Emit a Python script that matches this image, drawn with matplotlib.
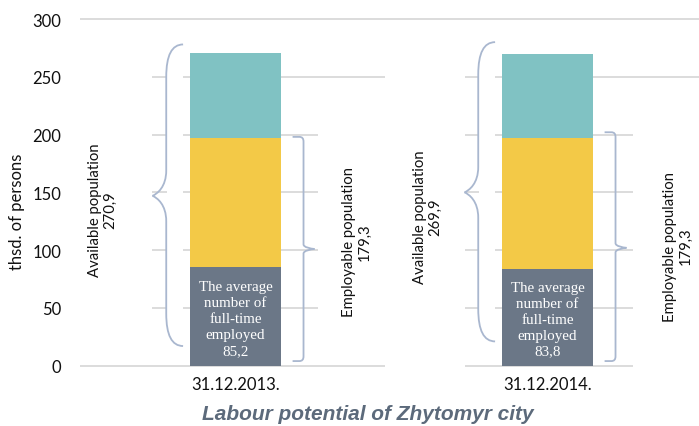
import matplotlib
matplotlib.use("Agg")
import matplotlib.pyplot as plt
from matplotlib.path import Path
from matplotlib.patches import PathPatch, Rectangle

# ---------------- data ----------------
categories = ["31.12.2013.", "31.12.2014."]
employed_full_time = [85.2, 83.8]          # dark segment
employable_rest = [111.8, 113.2]           # yellow segment (top ~197)
available_total = [270.9, 269.9]           # whole bar
employable_total = [179.3, 179.3]
yticks = [0, 50, 100, 150, 200, 250, 300]
ylabel = "thsd. of persons"
title = "Labour potential of Zhytomyr city"

other_rest = [t - e - m for t, e, m in zip(available_total, employed_full_time, employable_rest)]

def fmt(v):
    return f"{v:.1f}".replace(".", ",")

# ---------------- style ----------------
C_DARK = "#6b7787"
C_YEL = "#f3c947"
C_TEAL = "#80c2c3"
C_GRID = "#d9d9d9"
C_BRACE = "#a9b7cf"
C_TITLE = "#5c6a7b"
SANS = ["Lato", "DejaVu Sans"]
SERIF = ["Liberation Serif", "DejaVu Serif"]

W, H = 699, 427
fig = plt.figure(figsize=(W / 100, H / 100), dpi=100)
ax = fig.add_axes([79.5 / W, (H - 369.0) / H, 624 / W, (369.0 - 17.7) / H])
ax.set_xlim(-0.5, 1.5)
ax.set_ylim(-2, 302)

x = list(range(len(categories)))
bw = 0.292
ax.bar(x, employed_full_time, width=bw, color=C_DARK, zorder=3)
ax.bar(x, employable_rest, width=bw, bottom=employed_full_time, color=C_YEL, zorder=3)
bottoms2 = [a + b for a, b in zip(employed_full_time, employable_rest)]
ax.bar(x, other_rest, width=bw, bottom=bottoms2, color=C_TEAL, zorder=3)

# grid
ax.set_yticks(yticks)
ax.yaxis.grid(True, color=C_GRID, linewidth=1.3, zorder=0)
ax.set_axisbelow(True)
for s in ax.spines.values():
    s.set_visible(False)
ax.tick_params(axis="both", length=0)
ax.tick_params(axis="y", pad=13, labelsize=12)
ax.set_yticklabels([str(t) for t in yticks], fontfamily=SANS, color="#111111")
ax.set_xticks(x)
ax.set_xticklabels(categories, fontfamily=SANS, fontsize=12, color="#111111")
ax.tick_params(axis="x", pad=6)

# white boxes hiding grid segments (text boxes / brace fills)
white_boxes = [(-0.5, 10, -0.267, 285), (-0.219, 10, -0.168, 285),
               (0.780, 10, 0.832, 285), (0.265, 10, 0.736, 220),
               (0.479, -5, 0.736, 285), (1.274, -5, 1.6, 220)]
for x0, y0, x1, y1 in white_boxes:
    ax.add_patch(Rectangle((x0, y0), x1 - x0, y1 - y0, facecolor="white",
                           edgecolor="none", zorder=1, clip_on=False))


def brace(xc, x_end, x_corner, x_v, x_tip, y_top, y_tip, y_bot, r_end, r_mid):
    xe, xcr, xv, xt = xc + x_end, xc + x_corner, xc + x_v, xc + x_tip
    verts = [(xe, y_top), (xcr, y_top), (xv, y_top), (xv, y_top - r_end),
             (xv, y_tip + r_mid),
             (xv, y_tip + r_mid * 0.35), (xt + (xv - xt) * 0.35, y_tip + r_mid * 0.08), (xt, y_tip),
             (xt + (xv - xt) * 0.35, y_tip - r_mid * 0.08), (xv, y_tip - r_mid * 0.35), (xv, y_tip - r_mid),
             (xv, y_bot + r_end), (xv, y_bot), (xcr, y_bot), (xe, y_bot)]
    codes = [Path.MOVETO, Path.LINETO, Path.CURVE3, Path.CURVE3,
             Path.LINETO,
             Path.CURVE4, Path.CURVE4, Path.CURVE4,
             Path.CURVE4, Path.CURVE4, Path.CURVE4,
             Path.LINETO, Path.CURVE3, Path.CURVE3, Path.LINETO]
    ax.add_patch(PathPatch(Path(verts, codes), facecolor="none", edgecolor=C_BRACE,
                           linewidth=1.3, zorder=4, clip_on=False))


avail_geom = [(278, 147, 17), (280, 150, 21)]
empl_geom = [(198, 101, 4), (202, 102, 4)]
for i in x:
    yt, ym, yb = avail_geom[i]
    brace(i, -0.168, -0.168, -0.222, -0.266, yt, ym, yb, 28, 22)
    yt, ym, yb = empl_geom[i]
    brace(i, 0.183, 0.205, 0.218, 0.253, yt, ym, yb, 4, 4)

# texts
avail_txt_pos = [(-0.425, 135), (0.617, 129)]
empl_txt_pos = [(0.389, 108), (1.418, 104)]
for i in x:
    ax.text(*avail_txt_pos[i], f"Available population\n{fmt(available_total[i])}",
            rotation=90, ha="center", va="center", fontsize=10.7, fontfamily=SANS,
            color="#111111", zorder=5, linespacing=1.1)
    ax.text(*empl_txt_pos[i], f"Employable population\n{fmt(employable_total[i])}",
            rotation=90, ha="center", va="center", fontsize=10.7, fontfamily=SANS,
            color="#111111", zorder=5, linespacing=1.1, clip_on=False)
    ax.text(i, employed_full_time[i] / 2 - 1.5,
            f"The average\nnumber of\nfull-time\nemployed\n{fmt(employed_full_time[i])}",
            ha="center", va="center", fontsize=10.8, fontfamily=SERIF,
            color="white", zorder=5, linespacing=1.3)

fig.text(17 / W, 1 - 212 / H, ylabel, rotation=90, ha="center", va="center",
         fontsize=12, fontfamily=SANS, color="#111111")
fig.text(368 / W, 1 - 415 / H, title, ha="center", va="center", fontsize=15,
         fontweight="bold", fontstyle="italic", fontfamily=["Liberation Sans", "DejaVu Sans"],
         color=C_TITLE)

fig.savefig("out.png", dpi=100)
